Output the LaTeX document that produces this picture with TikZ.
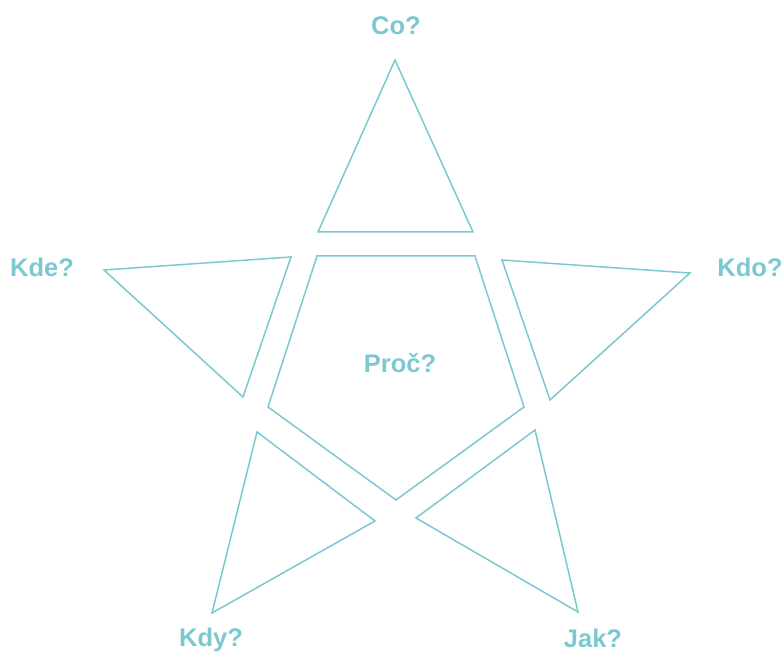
\documentclass[tikz,border=0pt]{standalone}
\usepackage{fontspec}
\setmainfont{Liberation Sans}
\definecolor{teal1}{HTML}{7CC8D0}
\begin{document}
\begin{tikzpicture}[x=1pt,y=-1pt,
  shp/.style={draw=teal1,line width=1.5pt,line join=miter},
  lbl/.style={text=teal1,font=\fontsize{25.5}{30}\selectfont\bfseries,inner sep=0pt}]
\useasboundingbox (0,0) rectangle (784,652);
\draw[shp] (395,60) -- (473,232) -- (318,232) -- cycle;
\draw[shp] (317,256) -- (475,256) -- (524,407) -- (396,500) -- (268,407) -- cycle;
\draw[shp] (104,270) -- (291,257) -- (243,397) -- cycle;
\draw[shp] (502,260) -- (690,273) -- (550,400) -- cycle;
\draw[shp] (257,432) -- (375,521) -- (212,613) -- cycle;
\draw[shp] (535,430) -- (578,612) -- (416,518) -- cycle;
\node[lbl] (co) at (396,26) {Co?};
\node[lbl] (kde) at (42,267) {Kde?};
\node[lbl] (kdo) at (750,267) {Kdo?};
\node[lbl] (proc) at (400,363) {Proč?};
\node[lbl] (kdy) at (211,640) {Kdy?};
\node[lbl] (jak) at (593,638) {Jak?};
\end{tikzpicture}
\end{document}
